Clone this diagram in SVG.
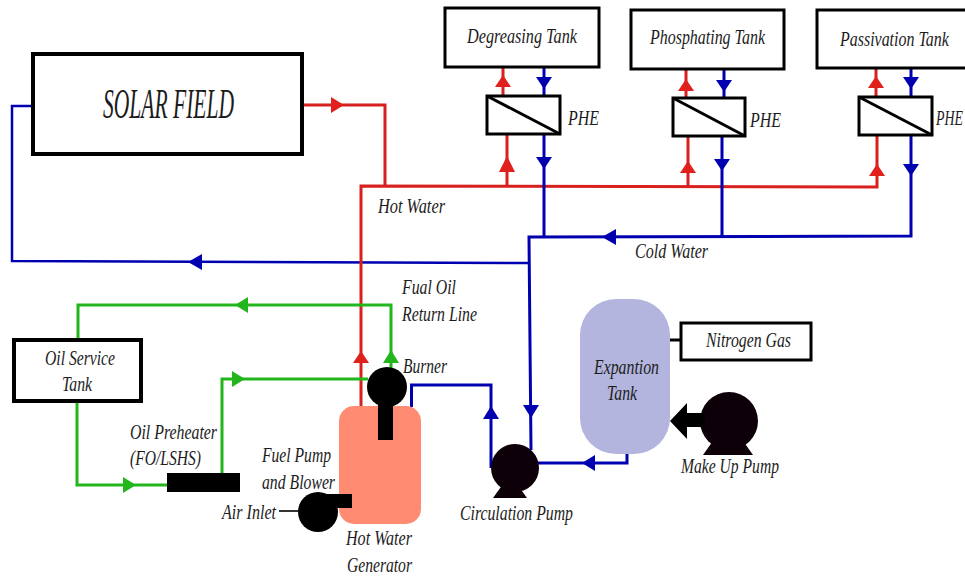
<svg xmlns="http://www.w3.org/2000/svg" width="965" height="576" viewBox="0 0 965 576">
<style>
text{font-family:"Liberation Serif","Times New Roman",serif;font-style:italic;font-size:21px;fill:#1c1c1c}
.box{fill:#fff;stroke:#000;stroke-width:3}
.blk{fill:#000}
.pump{fill:#0d0008}
.r,.b,.g{fill:none;stroke-width:3}
.r{stroke:#d8201f}.b{stroke:#0000b0}.g{stroke:#22b51c}
.ra{fill:#e0201c}.ba{fill:#0000b0}.ga{fill:#22b51c}
</style>
<rect width="965" height="576" fill="#fff"/>
<g id="connectors">
<path class="b" style="stroke-width:2.500" d="M33 106H12V261L529 263"/>
<path class="r" d="M302 105H385V186"/>
<path class="r" d="M361 406V186L877 187V135"/>
<path class="r" d="M503 67V96M507 134V187M686 69V98M688 136V187M876 68V97"/>
<path class="b" d="M544 67V96M544 134V237M724 69V98M722 136V237M911 68V97M911 135V236L529 237L531 450"/>
<path class="b" d="M491 468V385H411.500V407"/>
<path class="b" d="M538 463H627V454"/>
<path class="g" d="M391 368V305H78V340"/>
<path class="g" d="M77 401V485H167"/>
<path class="g" d="M222 473V379H368"/>
<path d="M670 340H681" stroke="#000" stroke-width="3" fill="none"/>
<path d="M279 511H298" stroke="#333" stroke-width="2" fill="none"/>
<polygon class="ba" points="188,262 202,254 202,270"/>
<polygon class="ra" points="344,105 331,97 331,113"/>
<polygon class="ra" points="503,75 495,87 511,87"/>
<polygon class="ba" points="544,89 536,77 552,77"/>
<polygon class="ra" points="507,156 499,172 515,172"/>
<polygon class="ba" points="544,169 536,157 552,157"/>
<polygon class="ra" points="686,79 678,91 694,91"/>
<polygon class="ba" points="724,92 716,80 732,80"/>
<polygon class="ra" points="688,161 680,173 696,173"/>
<polygon class="ba" points="722,171 714,159 730,159"/>
<polygon class="ra" points="876,76 868,88 884,88"/>
<polygon class="ba" points="911,89 903,77 919,77"/>
<polygon class="ra" points="877,164 869,176 885,176"/>
<polygon class="ba" points="911,176 903,164 919,164"/>
<polygon class="ba" points="602,237 616,229 616,245"/>
<polygon class="ba" points="531,418 523,405 539,405"/>
<polygon class="ba" points="491,406 483,419 499,419"/>
<polygon class="ba" points="582,463 595,455 595,471"/>
<polygon class="ra" points="361,351 353,363 369,363"/>
<polygon class="ga" points="391,350 383,363 399,363"/>
<polygon class="ga" points="235,305 248,297 248,313"/>
<polygon class="ga" points="136,485 123,477 123,493"/>
<polygon class="ga" points="245,379 232,371 232,387"/>
</g>
<g id="solar-field"><rect x="33" y="54" width="269" height="100" class="box" style="stroke-width:4"/><text x="103" y="118" style="font-size:42px" textLength="131" lengthAdjust="spacingAndGlyphs">SOLAR FIELD</text></g>
<g id="degreasing-tank"><rect x="445" y="8" width="154" height="59" class="box"/><text x="467" y="43" textLength="110" lengthAdjust="spacingAndGlyphs">Degreasing Tank</text></g>
<g id="phosphating-tank"><rect x="631" y="10" width="153" height="59" class="box"/><text x="650" y="44" textLength="115" lengthAdjust="spacingAndGlyphs">Phosphating Tank</text></g>
<g id="passivation-tank"><rect x="817" y="10" width="160" height="58" class="box"/><text transform="matrix(.76 0 0 1 840 46)">Passivation Tank</text></g>
<g id="phe-1"><rect x="487" y="96" width="73" height="38" class="box"/><path d="M487 96L560 134" stroke="#000" stroke-width="3"/><text x="568" y="125" textLength="31" lengthAdjust="spacingAndGlyphs">PHE</text></g>
<g id="phe-2"><rect x="673" y="98" width="72" height="38" class="box"/><path d="M673 98L745 136" stroke="#000" stroke-width="3"/><text x="750" y="127" textLength="31" lengthAdjust="spacingAndGlyphs">PHE</text></g>
<g id="phe-3"><rect x="859" y="97" width="73" height="38" class="box"/><path d="M859 97L932 135" stroke="#000" stroke-width="3"/><text transform="matrix(.66 0 0 1 936 125)">PHE</text></g>
<g id="hot-water-label"><text x="378" y="213" textLength="67" lengthAdjust="spacingAndGlyphs">Hot Water</text></g>
<g id="cold-water-label"><text x="635" y="258" textLength="73" lengthAdjust="spacingAndGlyphs">Cold Water</text></g>
<g id="return-line-label"><text x="402" y="294" textLength="54" lengthAdjust="spacingAndGlyphs">Fual Oil</text><text x="402" y="321" textLength="75" lengthAdjust="spacingAndGlyphs">Return Line</text></g>
<g id="oil-service-tank"><rect x="14" y="340" width="127" height="61" class="box" style="stroke-width:4"/><text x="45" y="365" textLength="70" lengthAdjust="spacingAndGlyphs">Oil Service</text><text x="62" y="391" textLength="30" lengthAdjust="spacingAndGlyphs">Tank</text></g>
<g id="oil-preheater"><rect x="167" y="473" width="73" height="19" class="blk"/><text x="130" y="439" textLength="87" lengthAdjust="spacingAndGlyphs">Oil Preheater</text><text x="130" y="465" textLength="71" lengthAdjust="spacingAndGlyphs">(FO/LSHS)</text></g>
<g id="hot-water-generator"><rect x="339" y="406" width="82" height="118" rx="15" fill="#ff8c72"/><text x="346" y="545" textLength="66" lengthAdjust="spacingAndGlyphs">Hot Water</text><text x="347" y="572" textLength="65" lengthAdjust="spacingAndGlyphs">Generator</text></g>
<g id="burner"><circle cx="387" cy="387" r="20" class="blk"/><rect x="378" y="395" width="15" height="45" class="blk"/><text x="403" y="373" textLength="44" lengthAdjust="spacingAndGlyphs">Burner</text></g>
<g id="fuel-pump-blower"><circle cx="318" cy="512" r="20" class="blk"/><rect x="318" y="494" width="34" height="14" class="blk"/><text x="262" y="462" textLength="69" lengthAdjust="spacingAndGlyphs">Fuel Pump</text><text x="262" y="489" textLength="73" lengthAdjust="spacingAndGlyphs">and Blower</text><text x="222" y="519" textLength="54" lengthAdjust="spacingAndGlyphs">Air Inlet</text></g>
<g id="circulation-pump"><polygon class="pump" points="493,498 527,498 517,484 503,484"/><circle cx="515" cy="468" r="24" class="pump"/><text x="460" y="520" textLength="113" lengthAdjust="spacingAndGlyphs">Circulation Pump</text></g>
<g id="expansion-tank"><rect x="580" y="299" width="90" height="155" rx="36" fill="#b3b5de"/><text x="594" y="374" textLength="65" lengthAdjust="spacingAndGlyphs">Expantion</text><text x="607" y="400" textLength="30" lengthAdjust="spacingAndGlyphs">Tank</text></g>
<g id="nitrogen-gas"><rect x="681" y="323" width="130" height="37" class="box"/><text x="706" y="347" textLength="85" lengthAdjust="spacingAndGlyphs">Nitrogen Gas</text></g>
<g id="make-up-pump"><polygon class="pump" points="703,455 753,455 741,438 715,438"/><circle cx="729" cy="421" r="29" class="pump"/><polygon class="blk" points="670,421 687,403 687,413 705,413 705,427 687,427 687,439"/><text x="681" y="473" textLength="98" lengthAdjust="spacingAndGlyphs">Make Up Pump</text></g>
</svg>
